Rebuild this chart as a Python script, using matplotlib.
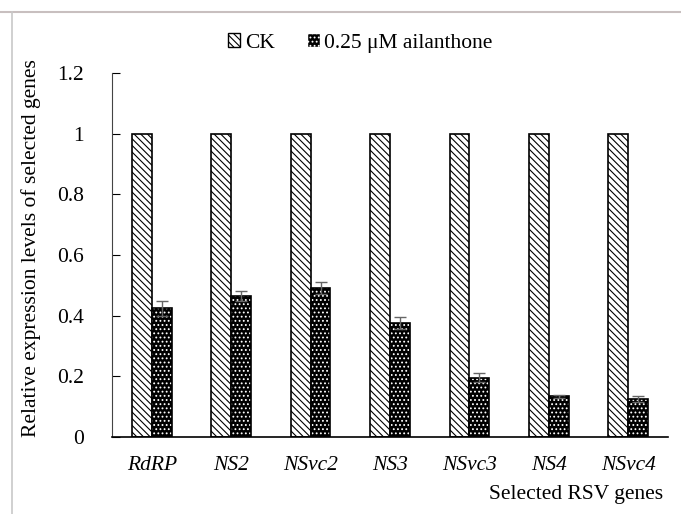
import matplotlib.pyplot as plt
from matplotlib.patches import Patch
from matplotlib.lines import Line2D
import numpy as np

plt.rcParams['font.family'] = ['Liberation Serif', 'DejaVu Serif']
plt.rcParams['hatch.linewidth'] = 0.8

genes = ['RdRP', 'NS2', 'NSvc2', 'NS3', 'NSvc3', 'NS4', 'NSvc4']
ck = [1, 1, 1, 1, 1, 1, 1]
treat = [0.425, 0.465, 0.49, 0.375, 0.195, 0.135, 0.125]
treat_err = [0.025, 0.015, 0.02, 0.02, 0.015, 0.005, 0.01]

fs = 15.5

fig = plt.figure(figsize=(6.81, 5.14), dpi=100)
ax = fig.add_axes([112 / 681, 1 - 437 / 514, 556 / 681, 364 / 514])

x = np.arange(len(genes))
w = 0.25

# CK bars: white with dense diagonal hatch
ax.bar(x - w / 2, ck, w, facecolor='white', edgecolor='black', hatch='\\\\\\\\\\', linewidth=1.2)

# treatment bars: black with white dots, then black border on top
ax.bar(x + w / 2, treat, w, facecolor='black', edgecolor='white', hatch='....', linewidth=0)
ax.bar(x + w / 2, treat, w, fill=False, edgecolor='black', linewidth=1.2)
ax.errorbar(x + w / 2, treat, yerr=treat_err, fmt='none', ecolor='#666666', capsize=4, elinewidth=1)

ax.set_xlim(-0.5, len(genes) - 0.5)
ax.set_ylim(0, 1.2)
ax.set_yticks([0, 0.2, 0.4, 0.6, 0.8, 1, 1.2])
ax.set_yticklabels(['0', '0.2', '0.4', '0.6', '0.8', '1', '1.2'])
ax.set_xticks(x)
ax.set_xticklabels(genes, style='italic')
ax.tick_params(axis='y', direction='in', length=6, labelsize=fs, pad=20)
ax.tick_params(axis='x', length=0, labelsize=fs, pad=14)
for s in ['top', 'right']:
    ax.spines[s].set_visible(False)
ax.spines['left'].set_color('#444444')
ax.spines['bottom'].set_linewidth(1.2)

ax.set_ylabel('Relative expression levels of selected genes', fontsize=fs)
ax.yaxis.set_label_coords(-0.128, 0.52)
fig.text(663 / 681, 1 - 494 / 514, 'Selected RSV genes', ha='right', va='center', fontsize=fs)

handles = [
    Patch(facecolor='white', edgecolor='black', hatch='\\\\\\\\\\'),
    Patch(facecolor='black', edgecolor='white', hatch='....'),
]
fig.legend(handles, ['CK', '0.25 \u03bcM ailanthone'], loc='center', bbox_to_anchor=(360 / 681, 1 - 43 / 514),
           ncol=2, frameon=False, fontsize=fs, handlelength=0.6, handleheight=0.6,
           handletextpad=0.2, columnspacing=1.5)

# thin gray frame lines at top and left of the picture
fig.add_artist(Line2D([0, 1], [1 - 12 / 514] * 2, color='#c8bfbf', lw=1.5, transform=fig.transFigure))
fig.add_artist(Line2D([12 / 681] * 2, [0, 1 - 12 / 514], color='#c8c8c8', lw=1.2, transform=fig.transFigure))

fig.savefig('out.png', dpi=100)
